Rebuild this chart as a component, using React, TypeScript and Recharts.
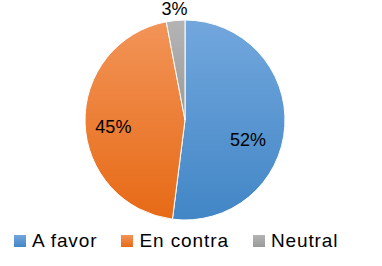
import { PieChart, Pie, Cell, Legend } from "recharts"

const categories = ["A favor", "En contra", "Neutral"]
const values = [52, 45, 3]

const gradients = [
  { id: "gFavor", top: "#72a7dd", bottom: "#4286c6" },
  { id: "gContra", top: "#f29458", bottom: "#e76a16" },
  { id: "gNeutral", top: "#b4b4b4", bottom: "#9a9a9a" },
]

const data = categories.map((name, i) => ({ name, value: values[i] }))

const RADIAN = Math.PI / 180

// eslint-disable-next-line @typescript-eslint/no-explicit-any
function renderLabel(props: any) {
  const { cx, cy, midAngle, outerRadius, percent, value } = props
  const small = percent < 0.1
  const r = small ? outerRadius + 12 : outerRadius * (value > 50 ? 0.66 : 0.72)
  // nudge big labels a bit downward the way Excel's best fit does
  const angle = small ? midAngle : midAngle + (value > 50 ? -14 : 4)
  const x = cx + r * Math.cos(-angle * RADIAN)
  const y = cy + r * Math.sin(-angle * RADIAN)
  return (
    <text
      x={x}
      y={y}
      fill="#000"
      textAnchor="middle"
      dominantBaseline="central"
      fontSize={18}
      fontFamily="Liberation Sans, Arial, sans-serif"
    >
      {value}%
    </text>
  )
}

// eslint-disable-next-line @typescript-eslint/no-explicit-any
function LegendContent({ payload }: { payload?: any[] }) {
  if (!payload) return null
  return (
    <div style={{ display: "flex", alignItems: "center", paddingLeft: 14 }}>
      {payload.map((entry, i) => (
        <div
          key={entry.value}
          style={{ display: "flex", alignItems: "center", marginRight: 24 }}
        >
          <svg width={12} height={12} style={{ marginRight: 6 }}>
            <rect width={12} height={12} fill={`url(#${gradients[i].id})`} />
          </svg>
          <span
            style={{
              fontSize: 19,
              fontFamily: "Liberation Sans, Arial, sans-serif",
              color: "#000",
              letterSpacing: 0.9,
            }}
          >
            {entry.value}
          </span>
        </div>
      ))}
    </div>
  )
}

export default function App() {
  return (
    <div style={{ position: "absolute", left: 0, top: 0, background: "#fff" }}>
      <PieChart width={382} height={266}>
        <defs>
          {gradients.map((g) => (
            <linearGradient key={g.id} id={g.id} x1="0" y1="0" x2="0" y2="1">
              <stop offset="0%" stopColor={g.top} />
              <stop offset="100%" stopColor={g.bottom} />
            </linearGradient>
          ))}
        </defs>
        <Pie
          data={data}
          dataKey="value"
          nameKey="name"
          cx={180}
          cy={115}
          outerRadius={100}
          startAngle={90}
          endAngle={-270}
          stroke="#fff"
          strokeWidth={1}
          label={renderLabel}
          labelLine={false}
          isAnimationActive={false}
        >
          {data.map((d, i) => (
            <Cell key={d.name} fill={`url(#${gradients[i].id})`} />
          ))}
        </Pie>
        <Legend
          verticalAlign="bottom"
          align="left"
          content={<LegendContent />}
          wrapperStyle={{ left: 0, bottom: 14 }}
        />
      </PieChart>
    </div>
  )
}
